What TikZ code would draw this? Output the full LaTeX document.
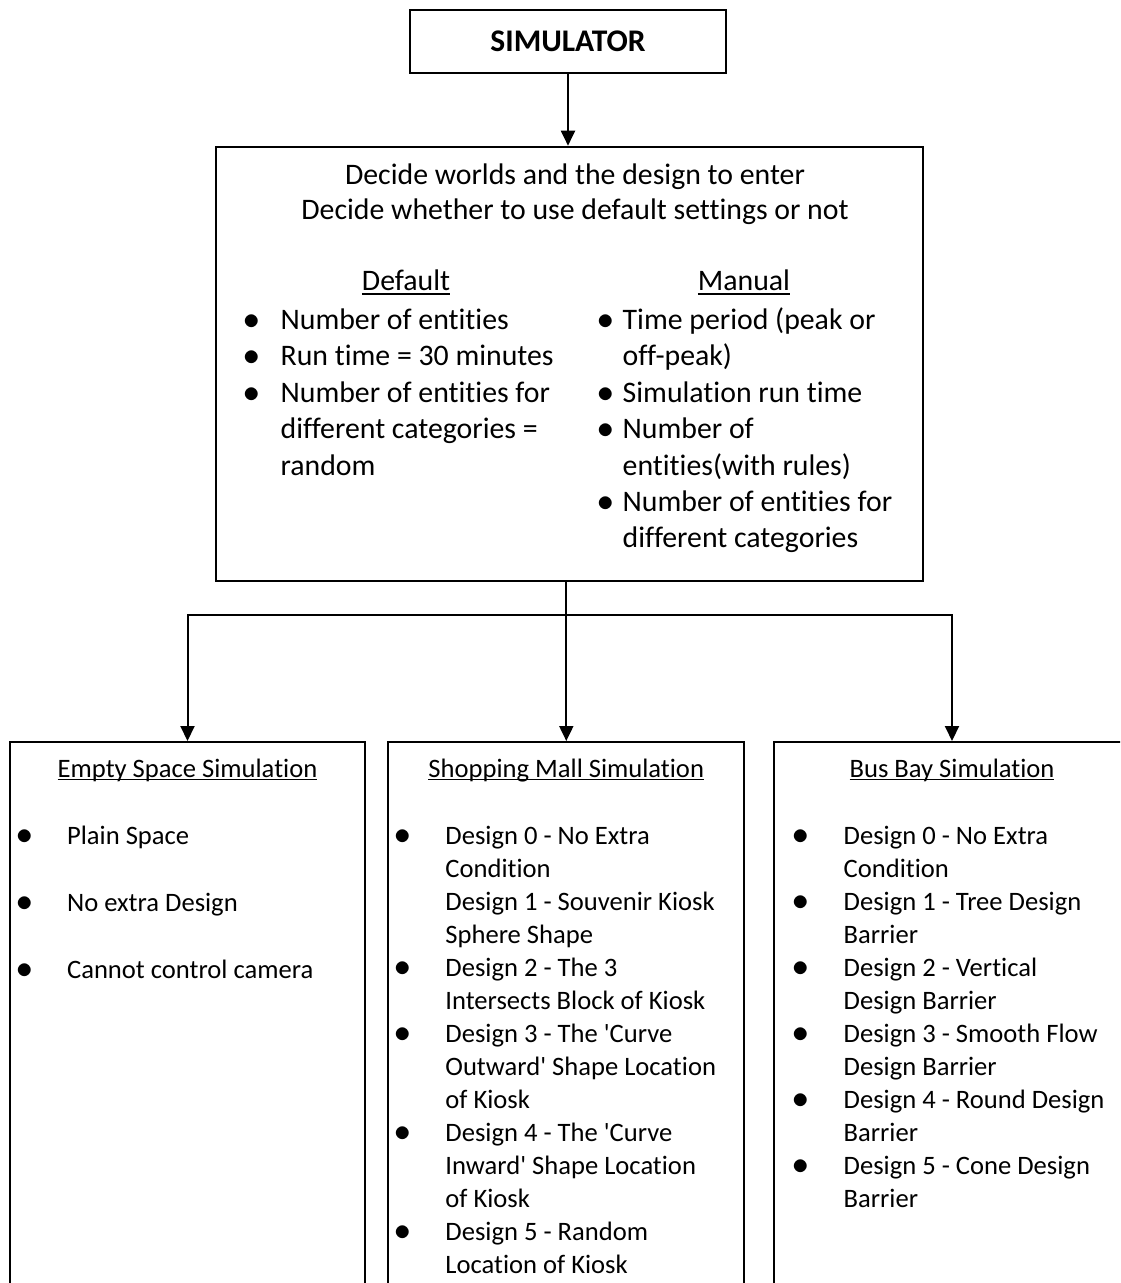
\documentclass[tikz,border=0pt]{standalone}
\usepackage{fontspec}
\setmainfont{Carlito}[Ligatures={NoCommon}]
\usetikzlibrary{arrows.meta}

% underline at a fixed depth, crossing descenders like a word processor does
\newcommand\ulword[1]{\setbox0\hbox{#1}\rlap{\rule[-0.13em]{\wd0}{0.065em}}\box0}
% bullet centred #1 to the left of the text start
\newcommand\blt[1]{\llap{\makebox[0pt]{\scalebox{1.15}{$\bullet$}}\hspace{#1}}}
\newcommand\sq{\textquotesingle}

\begin{document}
\begin{tikzpicture}[x=0.5pt,y=-0.5pt,
  box/.style={draw, line width=1pt, rectangle, inner sep=0pt},
  conn/.style={line width=1pt},
  arr/.style={conn, -{Triangle[width=7pt,length=7.5pt]}},
  mainline/.style={font=\fontsize{14.9}{18}\selectfont, inner sep=0pt, anchor=base west},
  subline/.style={font=\fontsize{13.3}{16.5}\selectfont, inner sep=0pt, anchor=base west},
  titleline/.style={subline, anchor=base}]

\useasboundingbox (0,0) rectangle (1120,1283);
\fill[white] (0,0) rectangle (1120,1283);
\clip (0,0) rectangle (1120,1283);

% ---- boxes ----
\node[box, minimum width=158pt, minimum height=31.35pt,
      font=\fontsize{15.75}{19}\selectfont\bfseries] (sim) at (568,41.35) {SIMULATOR};
\node[box, minimum width=353.5pt, minimum height=217.3pt] (main) at (569.2,364) {};
\node[box, minimum width=177.5pt, minimum height=294pt] (empty) at (187.5,1036) {};
\node[box, minimum width=178pt, minimum height=294pt] (mall) at (566.3,1036) {};
\node[box, minimum width=178pt, minimum height=294pt] (bus) at (952,1036) {};

% ---- connectors ----
\draw[arr] (sim.south) -- (sim.south |- main.north);
\coordinate (fork) at (566.3,615);
\draw[conn] (main.south -| mall.north) -- (fork);
\draw[arr] (fork) -- (mall.north);
\draw[arr] (fork) -| (empty.north);
\draw[arr] (fork) -| (bus.north);

% ---- settings box text ----
\node[mainline, anchor=base] (dec1) at (575,184.4) {Decide worlds and the design to enter};
\node[mainline, anchor=base] (dec2) at (575,219.4) {Decide whether to use default settings or not};
\node[mainline, anchor=base] (dflt) at (406,291) {\ulword{Default}};
\node[mainline, anchor=base] (manl) at (744,291) {\ulword{Manual}};

\foreach \s [count=\i from 0] in {
  {\blt{14.5pt}Number of entities},
  {\blt{14.5pt}Run time = 30 minutes},
  {\blt{14.5pt}Number of entities for},
  {different categories =},
  {random}}
  \node[mainline] (dl-\i) at (280.2,{329.5+36.4*\i}) {\s};

\foreach \s [count=\i from 0] in {
  {\blt{8.3pt}Time period (peak or},
  {off-peak)},
  {\blt{8.3pt}Simulation run time},
  {\blt{8.3pt}Number of},
  {entities(with rules)},
  {\blt{8.3pt}Number of entities for},
  {different categories}}
  \node[mainline] (ml-\i) at (622.3,{329.5+36.4*\i}) {\s};

% ---- simulation boxes text ----
\node[titleline] (emptyT) at (187.5,777) {\ulword{Empty Space Simulation}};
\node[titleline] (mallT) at (566.3,777) {\ulword{Shopping Mall Simulation}};
\node[titleline] (busT) at (952,777) {\ulword{Bus Bay Simulation}};

\foreach \s [count=\i from 0] in {
  {\blt{21.4pt}Plain Space},
  {\blt{21.4pt}No extra Design},
  {\blt{21.4pt}Cannot control camera}}
  \node[subline] (el-\i) at (66.7,{844+67*\i}) {\s};

\foreach \s [count=\i from 0] in {
  {\blt{21.4pt}Design 0 - No Extra},
  {Condition},
  {Design 1 - Souvenir Kiosk},
  {Sphere Shape},
  {\blt{21.4pt}Design 2 - The 3},
  {Intersects Block of Kiosk},
  {\blt{21.4pt}Design 3 - The \sq Curve},
  {Outward\sq{} Shape Location},
  {of Kiosk},
  {\blt{21.4pt}Design 4 - The \sq Curve},
  {Inward\sq{} Shape Location},
  {of Kiosk},
  {\blt{21.4pt}Design 5 - Random},
  {Location of Kiosk}}
  \node[subline] (sl-\i) at (445,{844+33*\i}) {\s};

\foreach \s [count=\i from 0] in {
  {\blt{21.4pt}Design 0 - No Extra},
  {Condition},
  {\blt{21.4pt}Design 1 - Tree Design},
  {Barrier},
  {\blt{21.4pt}Design 2 - Vertical},
  {Design Barrier},
  {\blt{21.4pt}Design 3 - Smooth Flow},
  {Design Barrier},
  {\blt{21.4pt}Design 4 - Round Design},
  {Barrier},
  {\blt{21.4pt}Design 5 - Cone Design},
  {Barrier}}
  \node[subline] (bl-\i) at (843.3,{844+33*\i}) {\s};

\end{tikzpicture}
\end{document}
